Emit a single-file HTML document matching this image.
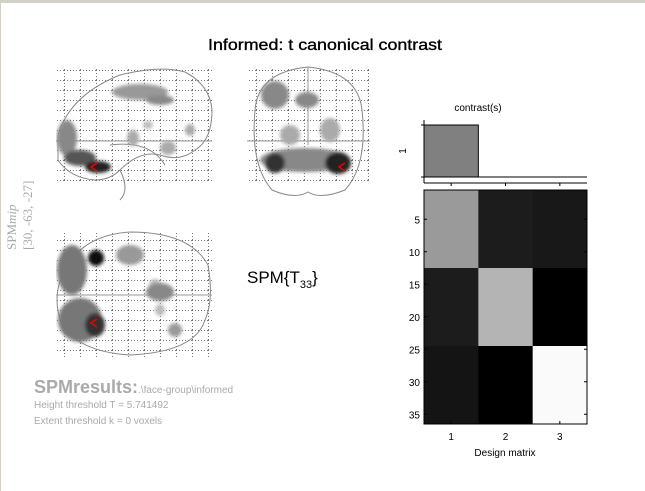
<!DOCTYPE html>
<html><head><meta charset="utf-8"><style>
html,body{margin:0;padding:0;background:#fff;}
svg{display:block;font-family:"Liberation Sans",sans-serif;}
</style></head><body>
<svg id="fig" width="645" height="491" viewBox="0 0 645 491">
<defs>
<filter id="bl" x="-30%" y="-30%" width="160%" height="160%"><feGaussianBlur stdDeviation="1.8"/></filter>
<pattern id="grid" width="16" height="10" patternUnits="userSpaceOnUse"><path d="M0.5 0V10M0 0.5H16" stroke="#777" stroke-width="1" stroke-dasharray="1,2" fill="none"/></pattern>
<clipPath id="c1"><rect x="56" y="67" width="156" height="116"/></clipPath>
<clipPath id="c2"><rect x="247" y="67" width="123" height="116"/></clipPath>
<clipPath id="c3"><rect x="56" y="232" width="156" height="126"/></clipPath>
</defs>
<rect x="0" y="0" width="645" height="3" fill="#d4d0c8"/>
<rect x="0" y="0" width="1" height="491" fill="#d4d0c8"/>
<text x="325" y="50" text-anchor="middle" font-size="16" stroke="#000" stroke-width="0.35" textLength="234" lengthAdjust="spacingAndGlyphs">Informed:  t canonical contrast</text>

<g>
<rect x="56" y="67" width="156" height="116" fill="url(#grid)"/>
<path d="M58 135 Q70 95 120 75 Q160 65 185 72 Q210 85 212 110 Q212 140 195 150 Q180 162 160 155 Q140 150 120 170 Q110 180 95 180 Q70 178 58 160 Z" fill="none" stroke="#888"/>
<path d="M110 145 Q150 140 165 165 M120 170 Q130 190 120 200" fill="none" stroke="#888"/>
<line x1="56" y1="141" x2="212" y2="141" stroke="#999"/>
<g clip-path="url(#c1)" filter="url(#bl)">
<ellipse cx="67" cy="138" rx="10" ry="18" fill="#888"/>
<ellipse cx="80" cy="158" rx="16" ry="8" fill="#555"/>
<ellipse cx="98" cy="167" rx="13" ry="6" fill="#222"/>
<ellipse cx="140" cy="92" rx="28" ry="8" fill="#999"/>
<ellipse cx="160" cy="100" rx="14" ry="5" fill="#888"/>
<ellipse cx="133" cy="138" rx="6" ry="8" fill="#aaa"/>
<ellipse cx="168" cy="148" rx="8" ry="7" fill="#aaa"/>
<ellipse cx="190" cy="130" rx="5" ry="6" fill="#aaa"/>
<ellipse cx="148" cy="125" rx="5" ry="4" fill="#bbb"/>
</g>
<path d="M97 163 L91 167 L97 171" fill="none" stroke="#e00" stroke-width="1.5"/>
</g>

<g>
<rect x="247" y="67" width="123" height="116" fill="url(#grid)"/>
<path d="M255 110 Q258 72 308 67 Q358 72 362 110 Q368 165 345 190 Q320 200 308 192 Q295 200 272 190 Q250 165 255 110 Z" fill="none" stroke="#888"/>
<line x1="308" y1="67" x2="308" y2="145" stroke="#999"/>
<line x1="247" y1="141" x2="370" y2="141" stroke="#999"/>
<g clip-path="url(#c2)" filter="url(#bl)">
<ellipse cx="275" cy="95" rx="14" ry="14" fill="#888"/>
<ellipse cx="307" cy="100" rx="12" ry="8" fill="#888"/>
<ellipse cx="290" cy="135" rx="10" ry="10" fill="#aaa"/>
<ellipse cx="330" cy="130" rx="10" ry="12" fill="#aaa"/>
<ellipse cx="305" cy="160" rx="45" ry="12" fill="#888"/>
<ellipse cx="275" cy="163" rx="10" ry="10" fill="#333"/>
<ellipse cx="338" cy="163" rx="13" ry="11" fill="#222"/>
</g>
<path d="M345 163 L339 167 L345 171" fill="none" stroke="#e00" stroke-width="1.5"/>
</g>

<g>
<rect x="56" y="232" width="156" height="126" fill="url(#grid)"/>
<path d="M62 275 Q80 235 130 232 Q190 232 208 265 Q214 300 205 320 Q195 352 130 355 Q80 352 62 325 Q52 300 62 275 Z" fill="none" stroke="#888"/>
<line x1="56" y1="295" x2="212" y2="295" stroke="#999"/>
<g clip-path="url(#c3)" filter="url(#bl)">
<ellipse cx="72" cy="270" rx="15" ry="25" fill="#777"/>
<ellipse cx="96" cy="258" rx="8" ry="8" fill="#111"/>
<ellipse cx="80" cy="320" rx="22" ry="22" fill="#777"/>
<ellipse cx="95" cy="325" rx="10" ry="12" fill="#333"/>
<ellipse cx="130" cy="255" rx="14" ry="10" fill="#999"/>
<ellipse cx="155" cy="285" rx="6" ry="6" fill="#bbb"/>
<ellipse cx="160" cy="292" rx="14" ry="9" fill="#888"/>
<ellipse cx="175" cy="330" rx="7" ry="7" fill="#999"/>
<ellipse cx="160" cy="310" rx="5" ry="6" fill="#bbb"/>
</g>
<path d="M97 319 L91 323 L97 327" fill="none" stroke="#e00" stroke-width="1.5"/>
</g>

<g transform="translate(16,250) rotate(-90)" fill="#aaa">
<text x="0" y="0" font-family="Liberation Serif, serif" font-size="13">SPM<tspan font-style="italic">mip</tspan></text>
<text x="0" y="16" font-family="Liberation Serif, serif" font-size="13">[30, -63, -27]</text>
</g>

<text x="247" y="283" font-size="17">SPM{T<tspan font-size="11" dy="5">33</tspan><tspan dy="-5">}</tspan></text>

<text x="34" y="393" fill="#aaa"><tspan font-size="18" font-weight="bold">SPMresults:</tspan><tspan font-size="10">.\face-group\informed</tspan></text>
<text x="34" y="408" fill="#aaa" font-size="10">Height threshold  T = 5.741492</text>
<text x="34" y="424" fill="#aaa" font-size="10">Extent threshold k = 0 voxels</text>

<g id="contrast"></g>
<g id="dm"></g>
</svg>
<script>
const contrastWeights = [1, 0, 0];
const blockRows = [12, 12, 12];
const blockGray = [
  [154, 28, 24],
  [28, 180, 0],
  [20, 0, 250]
];
const yTicks = [5, 10, 15, 20, 25, 30, 35];
const xTicks = [1, 2, 3];
const NS = 'http://www.w3.org/2000/svg';
const L = 424, R = 587, T = 190, B = 424;
const nRows = blockRows.reduce((a, b) => a + b, 0);
const colW = (R - L) / contrastWeights.length;
const rowH = (B - T) / nRows;
const xCol = c => L + (c - 1) * colW;
const yRow = r => T + r * rowH;
const cT = 125, cB = 177;
const yC = v => cB - v * (cB - cT);
function mk(tag, attrs, parent) { const e = document.createElementNS(NS, tag); for (const k in attrs) e.setAttribute(k, attrs[k]); parent.appendChild(e); return e; }
const cg = document.getElementById('contrast');
const dm = document.getElementById('dm');
contrastWeights.forEach((w, i) => {
  const y0 = Math.min(yC(w), yC(0)), h = Math.abs(yC(w) - yC(0));
  const b = mk('rect', {x: xCol(i + 1), y: y0, width: colW, height: h, fill: '#808080', stroke: '#000', 'stroke-width': 1}, cg);
  
  
});
mk('line', {x1: L, y1: yC(0), x2: R, y2: yC(0), stroke: '#000'}, cg);
mk('line', {x1: L, y1: 120, x2: L, y2: 183, stroke: '#000'}, cg);
mk('line', {x1: L, y1: 183, x2: R, y2: 183, stroke: '#000'}, cg);
[yC(1), yC(0)].forEach(y => mk('line', {x1: L - 3, y1: y, x2: L, y2: y, stroke: '#000'}, cg));
xTicks.forEach(t => mk('line', {x1: xCol(t) + colW / 2, y1: 183, x2: xCol(t) + colW / 2, y2: 186, stroke: '#000'}, cg));
const ct = mk('text', {x: 478, y: 111, 'font-size': 10, 'text-anchor': 'middle'}, cg);
ct.textContent = 'contrast(s)';


const cl = mk('text', {x: 0, y: 0, 'font-size': 10, 'text-anchor': 'middle', transform: 'translate(406,' + ((cT + cB) / 2) + ') rotate(-90)'}, cg);
cl.textContent = '1';


let r0 = 0;
blockRows.forEach((n, bi) => {
  blockGray[bi].forEach((g, ci) => {
    const c = mk('rect', {x: xCol(ci + 1), y: yRow(r0), width: colW + 0.5, height: n * rowH + 0.5, fill: 'rgb(' + g + ',' + g + ',' + g + ')'}, dm);
    
    
  });
  r0 += n;
});
mk('rect', {x: L, y: T, width: R - L, height: B - T, fill: 'none', stroke: '#000'}, dm);
yTicks.forEach(t => {
  const y = yRow(t - 0.5);
  mk('line', {x1: L, y1: y, x2: L + 3, y2: y, stroke: '#000'}, dm);
  mk('line', {x1: R - 3, y1: y, x2: R, y2: y, stroke: '#000'}, dm);
  const tx = mk('text', {x: L - 4, y: y + 4, 'font-size': 10, 'text-anchor': 'end'}, dm);
  tx.textContent = t;
  
  
});
xTicks.forEach(t => {
  const x = xCol(t) + colW / 2;
  mk('line', {x1: x, y1: B - 3, x2: x, y2: B, stroke: '#000'}, dm);
  const tx = mk('text', {x: x, y: B + 16, 'font-size': 10, 'text-anchor': 'middle'}, dm);
  tx.textContent = t;
  
  
});
const xl = mk('text', {x: 505, y: 456, 'font-size': 10, 'text-anchor': 'middle'}, dm);
xl.textContent = 'Design matrix';


</script>
</body></html>
